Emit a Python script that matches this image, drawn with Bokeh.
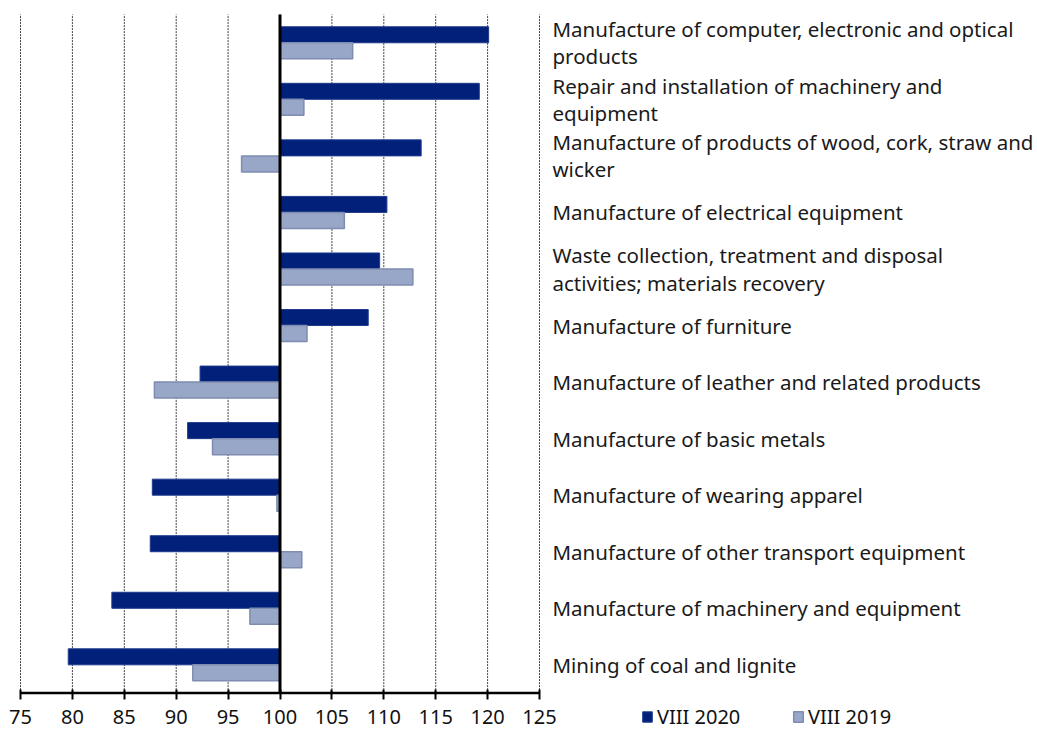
from bokeh.plotting import figure
from bokeh.models import Range1d, FixedTicker, Legend, LegendItem, ColumnDataSource, LinearAxis
from bokeh.core.properties import value
from bokeh.embed import file_html
from bokeh.resources import INLINE

categories = [
    "Manufacture of computer, electronic and optical\nproducts",
    "Repair and installation of machinery and\nequipment",
    "Manufacture of products of wood, cork, straw and\nwicker",
    "Manufacture of electrical equipment",
    "Waste collection, treatment and disposal\nactivities; materials recovery",
    "Manufacture of furniture",
    "Manufacture of leather and related products",
    "Manufacture of basic metals",
    "Manufacture of wearing apparel",
    "Manufacture of other transport equipment",
    "Manufacture of machinery and equipment",
    "Mining of coal and lignite",
]
v2020 = [120.1, 119.2, 113.6, 110.3, 109.6, 108.5, 92.3, 91.1, 87.7, 87.5, 83.8, 79.6]
v2019 = [107.0, 102.3, 96.3, 106.2, 112.8, 102.6, 87.9, 93.5, 99.7, 102.1, 97.1, 91.6]
series_names = ["VIII 2020", "VIII 2019"]
tick_values = [75, 80, 85, 90, 95, 100, 105, 110, 115, 120, 125]
base = 100

FONT = "Noto Sans"
C2020 = "#00207a"
C2020_LINE = "#1f3a8c"
C2019 = "#98a6c8"
C2019_LINE = "#7d8cb0"

n = len(categories)
pos = [n - i for i in range(n)]
bh = 0.283
y_lo, y_hi = 0.5, n + 0.5

src = ColumnDataSource(dict(
    pos=pos,
    pos20=[p_ + bh / 2 for p_ in pos],
    pos19=[p_ - bh / 2 for p_ in pos],
    v20=v2020,
    v19=v2019,
    base=[base] * n,
    label=categories,
    lx=[126.25] * n,
))

W, H = 1035, 734
PXX = 10.38   # px per x unit
PXY = 56.55   # px per category
p = figure(width=W, height=H, output_backend="svg", toolbar_location=None,
           x_range=Range1d(75 - 20 / PXX, 75 + (W - 20) / PXX),
           y_range=Range1d(y_lo - (H - 692.6) / PXY, y_hi + 14 / PXY),
           x_axis_location=None, y_axis_location=None,
           min_border_left=0, min_border_right=0, min_border_top=0,
           min_border_bottom=0)
p.outline_line_color = None
p.xgrid.grid_line_color = None
p.ygrid.grid_line_color = None

# dotted vertical grid lines from the tick values
p.segment(x0=tick_values, x1=tick_values, y0=[y_lo] * len(tick_values),
          y1=[y_hi] * len(tick_values), line_color="#444444", line_width=1,
          line_dash="2 1")

ax = LinearAxis(fixed_location=y_lo, ticker=FixedTicker(ticks=tick_values))
ax.axis_line_color = None
ax.major_tick_line_color = "black"
ax.major_tick_line_width = 2
ax.major_tick_in = 4
ax.major_tick_out = 6
ax.minor_tick_line_color = None
ax.major_label_text_font = FONT
ax.major_label_text_font_size = "20px"
ax.major_label_text_color = "#111111"
ax.major_label_standoff = 11
p.add_layout(ax, "below")

# axis line from 75 to 125
p.segment(x0=[tick_values[0]], x1=[tick_values[-1]], y0=[y_lo], y1=[y_lo],
          line_color="black", line_width=2.5)

r20 = p.hbar(y="pos20", left="base", right="v20", height=bh, source=src,
             fill_color=C2020, line_color=C2020_LINE, line_width=1)
r19 = p.hbar(y="pos19", left="base", right="v19", height=bh, source=src,
             fill_color=C2019, line_color=C2019_LINE, line_width=1.5)

# baseline at 100
p.segment(x0=[base], x1=[base], y0=[y_lo], y1=[y_hi], line_color="black", line_width=3)

p.text(x="lx", y="pos", text="label", source=src, text_font=value(FONT),
       text_font_size="20.5px", text_color="#1a1a1a", text_baseline="middle",
       text_align="left", text_line_height=0.97)

for r, name, xloc in [(r20, series_names[0], 641), (r19, series_names[1], 792)]:
    lg = Legend(items=[LegendItem(label=name, renderers=[r])], location=(xloc, 4),
                orientation="horizontal", border_line_color=None,
                background_fill_alpha=0, padding=0, margin=0, glyph_width=12,
                glyph_height=13, label_standoff=4, label_text_font=FONT,
                label_text_font_size="20px", label_text_color="#111111")
    p.add_layout(lg)

open("out.html", "w").write(file_html(p, INLINE))
